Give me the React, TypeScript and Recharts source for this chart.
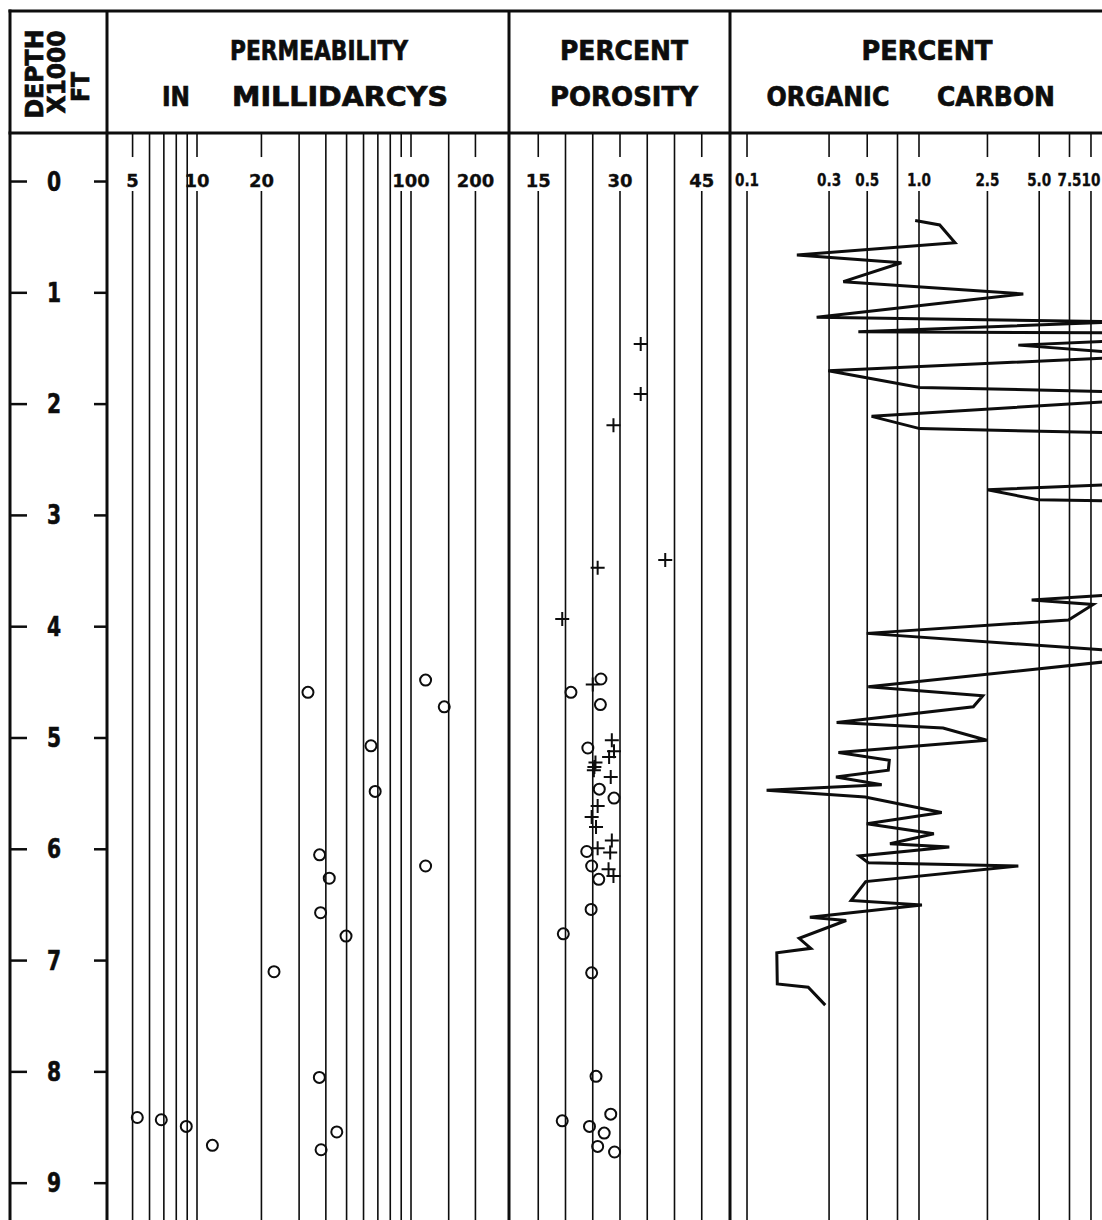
import React from 'react';
import { ScatterChart, Scatter, XAxis, YAxis, ReferenceLine } from 'recharts';

const INK = '#0d0d0d';
const FONT = "'DejaVu Sans', 'Liberation Sans', sans-serif";

// depth, thousands of feet
const DEPTH_TICKS = [0, 1, 2, 3, 4, 5, 6, 7, 8, 9];
const DEPTH_DOMAIN: [number, number] = [-0.436, 9.331];
// grid lines are broken where the scale labels sit
const LABEL_GAP: [number, number] = [-0.22, 0.085];

// permeability, millidarcys (log)
const PERM_DOMAIN: [number, number] = [3.838, 280.9];
const PERM_GRID = [5, 6, 7, 8, 9, 10, 20, 30, 40, 50, 60, 70, 80, 90, 100, 150, 200];
const PERM_LABELS = [5, 10, 20, 100, 200];
const PERM_GAPPED = [5, 10, 20, 90, 100, 200];
const PERM_DEPTH = [4.48, 4.59, 4.72, 5.07, 5.48, 6.05, 6.15, 6.26, 6.57, 6.78, 7.1, 8.05, 8.41, 8.43, 8.49, 8.54, 8.66, 8.7];
const PERM_MD = [117, 33, 143, 65, 68, 37.4, 117, 41.5, 37.8, 49.7, 22.9, 37.3, 5.26, 6.81, 8.91, 45, 11.8, 38];

// porosity, percent
const POR_DOMAIN: [number, number] = [10, 50];
const POR_GRID = [15, 20, 25, 30, 35, 40, 45];
const POR_LABELS = [15, 30, 45];
const POR_RING_DEPTH = [4.47, 4.59, 4.7, 5.09, 5.46, 5.54, 6.02, 6.15, 6.27, 6.54, 6.76, 7.11, 8.04, 8.38, 8.44, 8.49, 8.55, 8.67, 8.72];
const POR_RING = [26.5, 21.0, 26.4, 24.1, 26.2, 28.9, 23.9, 24.8, 26.1, 24.7, 19.6, 24.8, 25.6, 28.3, 19.4, 24.4, 27.1, 25.9, 29.0];
const POR_CROSS_DEPTH = [1.46, 1.91, 2.19, 3.4, 3.47, 3.93, 4.52, 5.02, 5.12, 5.17, 5.22, 5.26, 5.29, 5.35, 5.61, 5.71, 5.8, 5.92, 5.99, 6.03, 6.18, 6.24];
const POR_CROSS = [33.8, 33.8, 28.8, 38.3, 25.9, 19.4, 25.0, 28.5, 28.9, 28.0, 25.5, 25.3, 25.2, 28.3, 25.9, 24.8, 25.6, 28.5, 25.9, 28.2, 27.9, 28.8];

// organic carbon, percent (log); 15 = off scale to the right
const CARBON_DOMAIN: [number, number] = [0.0807, 11.59];
const CARBON_GRID = [0.1, 0.3, 0.5, 0.75, 1, 2.5, 5, 7.5, 10];
const CARBON_LABELS = [0.1, 0.3, 0.5, 1, 2.5, 5, 7.5, 10];
const CARBON_TEXT = ['0.1', '0.3', '0.5', '1.0', '2.5', '5.0', '7.5', '10'];
const CARBON_DEPTH = [
  0.35, 0.39, 0.55, 0.66, 0.73, 0.9, 1.01, 1.22, 1.26, 1.35, 1.36, 1.43, 1.47, 1.54, 1.58, 1.7, 1.85, 1.89, 1.97,
  2.11, 2.22, 2.26, 2.72, 2.77, 2.86, 2.87, 3.71, 3.76, 3.8, 3.94, 4.06, 4.22, 4.3, 4.54, 4.62, 4.72, 4.86, 4.91,
  5.02, 5.13, 5.2, 5.29, 5.35, 5.42, 5.47, 5.53, 5.67, 5.77, 5.86, 5.95, 5.98, 6.06, 6.12, 6.15, 6.29, 6.46, 6.5,
  6.61, 6.64, 6.8, 6.89, 6.93, 7.21, 7.24, 7.4,
];
const CARBON_PCT = [
  0.95, 1.32, 1.62, 0.195, 0.79, 0.363, 4.04, 0.254, 15, 0.444, 15, 15, 3.78, 15, 15, 0.297, 1.01, 15, 15,
  0.53, 1.01, 15, 15, 2.5, 4.94, 15, 15, 4.52, 10.3, 7.4, 0.497, 15, 15, 0.507, 2.35, 2.07, 0.332, 1.38,
  2.48, 0.34, 0.672, 0.663, 0.329, 0.607, 0.13, 0.486, 1.355, 0.497, 1.22, 0.678, 1.5, 0.45, 0.507, 3.78, 0.49, 0.403, 1.04,
  0.232, 0.377, 0.201, 0.235, 0.149, 0.15, 0.227, 0.285,
];

const TOP = 133;
const HEIGHT = 1087;
const LABEL_Y = 47;

const toPoints = (depth: number[], vals: number[]) => depth.map((d, i) => ({ d, v: vals[i] }));

function gridLines(grid: number[], gapped: number[]) {
  const common = { stroke: INK, strokeWidth: 1.6, ifOverflow: 'visible' as const };
  return grid.flatMap((v) =>
    gapped.includes(v)
      ? [
          <ReferenceLine key={`${v}-a`} segment={[{ x: v, y: DEPTH_DOMAIN[0] }, { x: v, y: LABEL_GAP[0] }]} {...common} />,
          <ReferenceLine key={`${v}-b`} segment={[{ x: v, y: LABEL_GAP[1] }, { x: v, y: DEPTH_DOMAIN[1] }]} {...common} />,
        ]
      : [<ReferenceLine key={`${v}`} x={v} {...common} />]
  );
}

const scaleTick = (fmt: (v: number) => string, size: number, squeeze = 1) => (props: any) => (
  <text
    transform={`translate(${props.x},${LABEL_Y}) scale(${squeeze},1)`}
    textAnchor="middle"
    dominantBaseline="central"
    fontFamily={FONT}
    fontWeight="bold"
    fontSize={size}
    fill={INK}
    stroke={INK}
    strokeWidth={0.3}
  >
    {fmt(props.payload.value)}
  </text>
);

const DepthTick = (props: any) => {
  const y = props.y;
  return (
    <g>
      <line x1={0} x2={17} y1={y} y2={y} stroke={INK} strokeWidth={2.5} />
      <line x1={84} x2={97} y1={y} y2={y} stroke={INK} strokeWidth={2.5} />
      <text
        transform={`translate(44,${y}) scale(0.75,1)`}
        textAnchor="middle"
        dominantBaseline="central"
        fontFamily={FONT}
        fontWeight="bold"
        fontSize={27}
        fill={INK}
        stroke={INK}
        strokeWidth={0.6}
      >
        {props.payload.value}
      </text>
    </g>
  );
};

const Ring = (p: any) => <circle cx={p.cx} cy={p.cy} r={5.5} fill="none" stroke={INK} strokeWidth={2} />;
const Cross = (p: any) => (
  <path d={`M${p.cx - 7},${p.cy}H${p.cx + 7}M${p.cx},${p.cy - 7}V${p.cy + 7}`} stroke={INK} strokeWidth={2} fill="none" />
);
const NoDot = () => <g />;

const depthAxis = (
  <YAxis type="number" dataKey="d" domain={DEPTH_DOMAIN} reversed hide allowDataOverflow />
);
const margin = { top: 0, right: 0, bottom: 0, left: 0 };

function HeaderText({ x, y, w, children }: { x: number; y: number; w: number; children: string }) {
  return (
    <text
      x={x}
      y={y}
      textAnchor="middle"
      dominantBaseline="central"
      fontFamily={FONT}
      fontWeight="bold"
      fontSize={26}
      textLength={w}
      lengthAdjust="spacingAndGlyphs"
      fill={INK}
      stroke={INK}
      strokeWidth={0.7}
    >
      {children}
    </text>
  );
}

function Frame() {
  const line = { stroke: INK, strokeWidth: 3 };
  return (
    <svg width={1102} height={1220} style={{ position: 'absolute', left: 0, top: 0, pointerEvents: 'none' }}>
      <line x1={8.5} x2={1102} y1={11} y2={11} {...line} />
      <line x1={10} x2={10} y1={9.5} y2={1220} {...line} />
      <line x1={8.5} x2={1102} y1={133} y2={133} {...line} />
      <line x1={107} x2={107} y1={11} y2={1220} {...line} />
      <line x1={509} x2={509} y1={11} y2={1220} {...line} />
      <line x1={730} x2={730} y1={11} y2={1220} {...line} />

      {[
        { t: 'DEPTH', x: 34, y: 74, w: 89 },
        { t: 'X1000', x: 56, y: 72, w: 83 },
        { t: 'FT', x: 80, y: 87, w: 30 },
      ].map((r) => (
        <text
          key={r.t}
          transform={`translate(${r.x},${r.y}) rotate(-90)`}
          textAnchor="middle"
          dominantBaseline="central"
          fontFamily={FONT}
          fontWeight="bold"
          fontSize={25}
          textLength={r.w}
          lengthAdjust="spacingAndGlyphs"
          fill={INK}
          stroke={INK}
          strokeWidth={0.7}
        >
          {r.t}
        </text>
      ))}

      <HeaderText x={319} y={51} w={178}>PERMEABILITY</HeaderText>
      <HeaderText x={176} y={97} w={28}>IN</HeaderText>
      <HeaderText x={340} y={97} w={216}>MILLIDARCYS</HeaderText>
      <HeaderText x={624} y={51} w={128}>PERCENT</HeaderText>
      <HeaderText x={624} y={97} w={148}>POROSITY</HeaderText>
      <HeaderText x={927} y={51} w={131}>PERCENT</HeaderText>
      <HeaderText x={828} y={97} w={123}>ORGANIC</HeaderText>
      <HeaderText x={996} y={97} w={118}>CARBON</HeaderText>
    </svg>
  );
}

export default function App() {
  return (
    <div style={{ position: 'absolute', left: 0, top: 0, width: 1102, height: 1220, background: '#fff', overflow: 'hidden' }}>
      {/* depth column + permeability */}
      <div style={{ position: 'absolute', left: 10, top: TOP }}>
        <ScatterChart width={497} height={HEIGHT} margin={margin}>
          <XAxis
            type="number"
            dataKey="v"
            scale="log"
            domain={PERM_DOMAIN}
            allowDataOverflow
            orientation="top"
            mirror
            ticks={PERM_LABELS}
            interval={0}
            tick={scaleTick((v) => String(v), 18)}
            tickLine={false}
            axisLine={false}
          />
          <YAxis
            type="number"
            dataKey="d"
            domain={DEPTH_DOMAIN}
            reversed
            allowDataOverflow
            width={98}
            ticks={DEPTH_TICKS}
            interval={0}
            tick={DepthTick}
            tickLine={false}
            axisLine={false}
          />
          {gridLines(PERM_GRID, PERM_GAPPED)}
          <Scatter data={toPoints(PERM_DEPTH, PERM_MD)} shape={Ring} isAnimationActive={false} />
        </ScatterChart>
      </div>

      {/* porosity */}
      <div style={{ position: 'absolute', left: 511, top: TOP }}>
        <ScatterChart width={218} height={HEIGHT} margin={margin}>
          <XAxis
            type="number"
            dataKey="v"
            domain={POR_DOMAIN}
            allowDataOverflow
            orientation="top"
            mirror
            ticks={POR_LABELS}
            interval={0}
            tick={scaleTick((v) => String(v), 18)}
            tickLine={false}
            axisLine={false}
          />
          {depthAxis}
          {gridLines(POR_GRID, POR_LABELS)}
          <Scatter data={toPoints(POR_CROSS_DEPTH, POR_CROSS)} shape={Cross} isAnimationActive={false} />
          <Scatter data={toPoints(POR_RING_DEPTH, POR_RING)} shape={Ring} isAnimationActive={false} />
        </ScatterChart>
      </div>

      {/* organic carbon */}
      <div style={{ position: 'absolute', left: 731, top: TOP }}>
        <ScatterChart width={371} height={HEIGHT} margin={margin}>
          <XAxis
            type="number"
            dataKey="v"
            scale="log"
            domain={CARBON_DOMAIN}
            allowDataOverflow
            orientation="top"
            mirror
            ticks={CARBON_LABELS}
            interval={0}
            tick={scaleTick((v) => CARBON_TEXT[CARBON_LABELS.indexOf(v)] ?? String(v), 17, 0.8)}
            tickLine={false}
            axisLine={false}
          />
          {depthAxis}
          {gridLines(CARBON_GRID, CARBON_LABELS)}
          <Scatter
            data={toPoints(CARBON_DEPTH, CARBON_PCT)}
            shape={NoDot}
            line={{ stroke: INK, strokeWidth: 3, fill: 'none' }}
            lineJointType="linear"
            isAnimationActive={false}
          />
        </ScatterChart>
      </div>

      <Frame />
    </div>
  );
}
